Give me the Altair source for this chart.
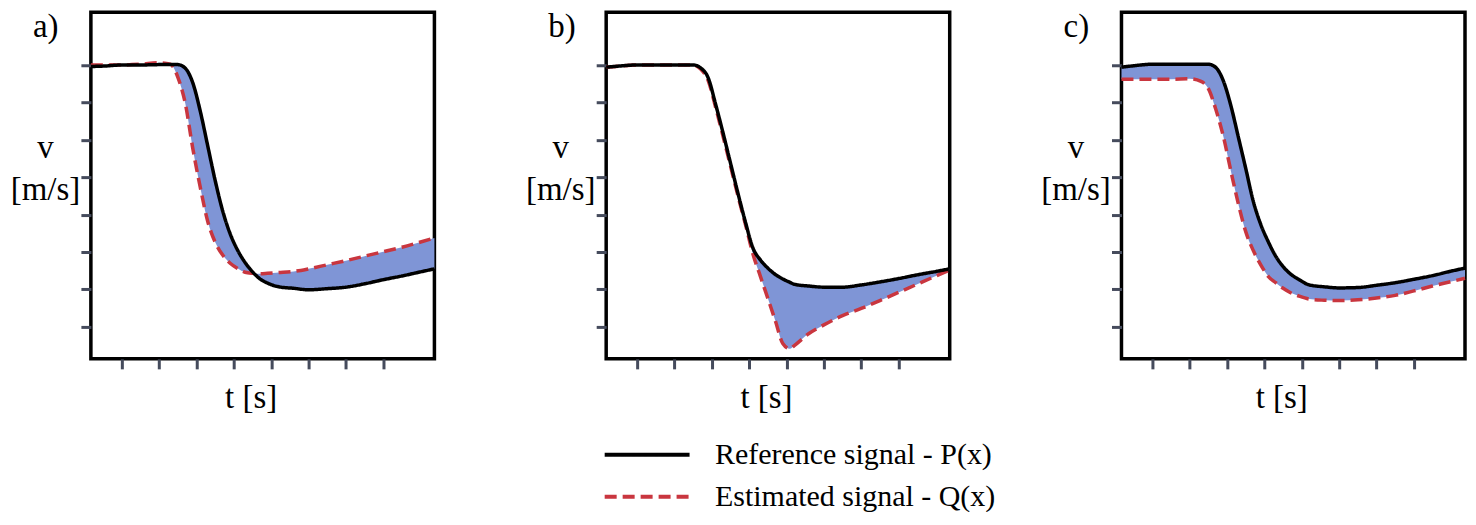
import altair as alt
import pandas as pd

FONT = "Liberation Serif"
TICK = "#454b5c"
FILL = "#7f95d6"
RED = "#c9363f"

tick_values = [1, 2, 3, 4, 5, 6, 7, 8]
x_domain = [0.17, 9.37]
y_domain = [0.14, 9.42]

panel_labels = ["a)", "b)", "c)"]
series_names = ["Reference signal - P(x)", "Estimated signal - Q(x)"]

t_a = [0.17, 0.5, 1.0, 1.5, 2.0, 2.3, 2.5, 2.7, 2.9, 3.1, 3.3, 3.5, 3.7, 3.9, 4.1,
       4.3, 4.5, 4.7, 4.9, 5.2, 5.6, 6.0, 6.5, 7.0, 7.5, 8.0, 8.5, 9.0, 9.37]
p_a = [7.97, 7.98, 8.01, 8.01, 8.02, 8.02, 8.02, 7.92, 7.53, 6.77, 5.84, 4.91, 4.10, 3.49, 3.05,
       2.72, 2.47, 2.28, 2.17, 2.07, 2.03, 1.99, 2.02, 2.06, 2.15, 2.26, 2.36, 2.47, 2.55]
q_a = [8.01, 8.01, 8.01, 8.03, 8.07, 8.03, 7.68, 6.97, 5.77, 4.73, 3.82, 3.26, 2.92, 2.70, 2.56,
       2.46, 2.43, 2.42, 2.43, 2.45, 2.48, 2.55, 2.66, 2.77, 2.89, 3.01, 3.13, 3.27, 3.38]

t_b = [0.17, 0.5, 1.0, 1.5, 2.0, 2.3, 2.5, 2.7, 2.9, 3.1, 3.3, 3.5, 3.7, 3.9, 4.1,
       4.3, 4.5, 4.7, 4.9, 5.09, 5.2, 5.6, 6.0, 6.5, 7.0, 7.5, 8.0, 8.5, 9.0, 9.37]
p_b = [7.95, 7.98, 8.01, 8.01, 8.01, 8.01, 8.01, 7.93, 7.67, 6.96, 6.19, 5.38, 4.57, 3.80, 3.11,
       2.79, 2.57, 2.40, 2.28, 2.19, 2.14, 2.09, 2.06, 2.06, 2.12, 2.20, 2.29, 2.39, 2.48, 2.55]
q_b = [7.95, 7.98, 8.01, 8.01, 8.01, 8.01, 8.01, 7.90, 7.60, 6.88, 6.10, 5.30, 4.50, 3.74, 2.95,
       2.35, 1.76, 1.16, 0.55, 0.41, 0.49, 0.82, 1.05, 1.30, 1.49, 1.70, 1.92, 2.14, 2.36, 2.52]

t_c = [0.17, 0.5, 1.0, 1.5, 2.0, 2.3, 2.5, 2.7, 2.9, 3.1, 3.3, 3.5, 3.7, 3.9, 4.1,
       4.3, 4.5, 4.7, 4.9, 5.2, 5.6, 6.0, 6.5, 7.0, 7.5, 8.0, 8.5, 9.0, 9.37]
p_c = [7.95, 7.99, 8.03, 8.03, 8.03, 8.03, 8.03, 7.94, 7.58, 6.92, 6.08, 5.23, 4.36, 3.74, 3.28,
       2.89, 2.61, 2.41, 2.28, 2.12, 2.07, 2.04, 2.05, 2.11, 2.18, 2.27, 2.37, 2.49, 2.57]
q_c = [7.63, 7.63, 7.63, 7.63, 7.64, 7.57, 7.37, 6.81, 6.09, 5.17, 4.29, 3.54, 3.04, 2.66, 2.35,
       2.18, 2.03, 1.91, 1.83, 1.74, 1.71, 1.70, 1.72, 1.77, 1.84, 1.96, 2.09, 2.21, 2.30]

LEGEND = alt.Legend(
    title=None, orient="none", legendX=542, legendY=428,
    symbolType="M-8.5,0H8.5", symbolSize=100, symbolStrokeWidth=4,
    labelFont=FONT, labelFontSize=30, labelColor="black", labelLimit=600,
    labelOffset=53, rowPadding=12, padding=0,
)


def panel(label, t, p, q):
    wide = pd.DataFrame({"t": t, "p": p, "q": q})
    n = len(t)
    long = pd.DataFrame({
        "t": list(t) + list(t),
        "v": list(p) + list(q),
        "series": [series_names[0]] * n + [series_names[1]] * n,
    })
    x = alt.X("t:Q", scale=alt.Scale(domain=x_domain, nice=False, zero=False),
              axis=alt.Axis(values=tick_values, labels=False, domain=False, grid=False,
                            tickSize=10, tickWidth=3, tickColor=TICK,
                            title="t [s]", titleFont=FONT, titleFontSize=33,
                            titleFontWeight="normal", titleColor="black",
                            titleX=160, titleY=49, titleAlign="center",
                            titleBaseline="alphabetic"))
    y_axis = alt.Axis(values=tick_values, labels=False, domain=False, grid=False,
                      tickSize=10, tickWidth=3, tickColor=TICK,
                      title=["v", "[m/s]"], titleAngle=0, titleFont=FONT, titleFontSize=33,
                      titleFontWeight="normal", titleColor="black",
                      titleX=-46, titleY=145, titleAlign="center",
                      titleBaseline="alphabetic", titleLineHeight=42)
    y_scale = alt.Scale(domain=y_domain, nice=False, zero=False)

    area = alt.Chart(wide).mark_area(color=FILL, opacity=1, interpolate="monotone").encode(
        x=x, y=alt.Y("p:Q", scale=y_scale, axis=y_axis), y2="q:Q")

    color = alt.Color("series:N", scale=alt.Scale(domain=series_names, range=["black", RED]),
                      legend=LEGEND)
    dash = alt.StrokeDash("series:N",
                          scale=alt.Scale(domain=series_names, range=[[1, 0], [12, 6]]),
                          legend=LEGEND)
    base = alt.Chart(long).mark_line(strokeWidth=3.5, interpolate="monotone").encode(
        x=x, y=alt.Y("v:Q", scale=y_scale, axis=y_axis), color=color, strokeDash=dash)
    line_q = base.transform_filter(alt.datum.series == series_names[1])
    line_p = base.transform_filter(alt.datum.series == series_names[0])

    lab = alt.Chart(pd.DataFrame({"label": [label]})).mark_text(
        align="left", baseline="top", font=FONT, fontSize=33, color="black"
    ).encode(x=alt.value(-58), y=alt.value(-1), text="label:N")

    return alt.layer(area, line_q, line_p, lab).properties(width=344, height=347)


chart = alt.hconcat(
    panel(panel_labels[0], t_a, p_a, q_a),
    panel(panel_labels[1], t_b, p_b, q_b),
    panel(panel_labels[2], t_c, p_c, q_c),
    spacing=80,
).properties(
    padding={"left": 0, "top": 1, "right": -6, "bottom": 0}
).configure_view(stroke="black", strokeWidth=3.5)

chart.save("out.html", embed_options={"renderer": "svg", "actions": False})
